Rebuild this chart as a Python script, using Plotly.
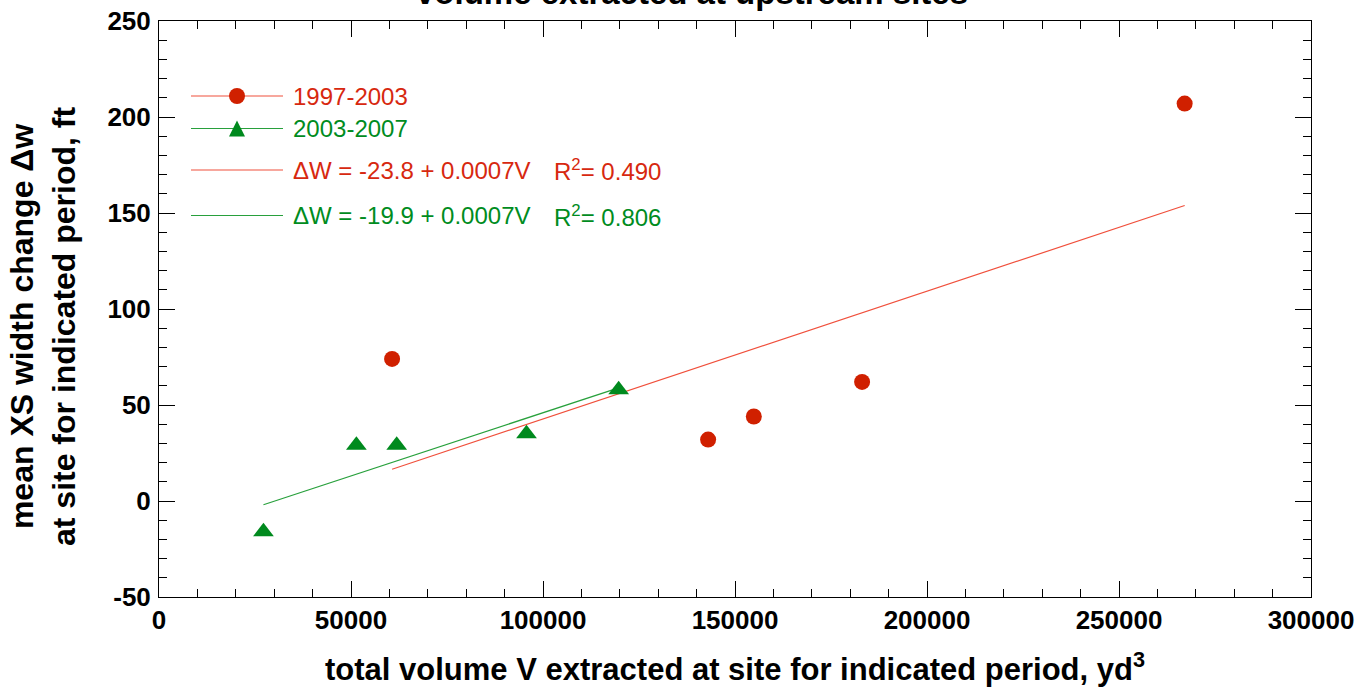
import numpy as np
import plotly.graph_objects as go

# Sites, 1997-2003: extracted volume (yd^3) and mean width change (ft)
vol_9703 = [60700, 143000, 154900, 183100, 267100]
dw_9703 = [74, 32, 44, 62, 207]

# Sites, 2003-2007
vol_0307 = [27200, 51400, 61900, 95700, 119700]
dw_0307 = [-16, 29, 29, 35, 58]

series_names = ["1997-2003", "2003-2007"]
fit_labels = ["ΔW = -23.8 + 0.0007V", "ΔW = -19.9 + 0.0007V"]
r2_labels = ["0.490", "0.806"]

x_ticks = [0, 50000, 100000, 150000, 200000, 250000, 300000]
y_ticks = [-50, 0, 50, 100, 150, 200, 250]

RED = "rgb(208,32,0)"
RED_LINE = "rgb(240,80,60)"
RED_TEXT = "rgb(215,40,15)"
GREEN = "rgb(0,138,30)"
GREEN_LINE = "rgb(40,160,60)"
GREEN_TEXT = "rgb(0,140,30)"
FONT = "Liberation Sans, Arial, Helvetica, sans-serif"

W, H = 1369, 688
ML, MR, MT, MB = 159, 58, 21, 91
PW, PH = W - ML - MR, H - MT - MB


def px(x):
    return (x - ML) / PW


def py(y):
    return (H - MB - y) / PH


fig = go.Figure()

# least-squares lines over each series' extent
for xs, ys, col in [(vol_9703, dw_9703, RED_LINE), (vol_0307, dw_0307, GREEN_LINE)]:
    m, b = np.polyfit(xs, ys, 1)
    xl = np.array([min(xs), max(xs)])
    fig.add_trace(go.Scatter(x=xl, y=m * xl + b, mode="lines",
                             line=dict(color=col, width=1.2), showlegend=False,
                             hoverinfo="skip"))

fig.add_trace(go.Scatter(x=vol_9703, y=dw_9703, mode="markers", name=series_names[0],
                         marker=dict(symbol="circle", size=16, color=RED),
                         showlegend=False))
fig.add_trace(go.Scatter(x=vol_0307, y=dw_0307, mode="markers", name=series_names[1],
                         marker=dict(symbol="triangle-up", size=18, color=GREEN),
                         showlegend=False))

shapes = []
annotations = []

# hand-built key
key_rows = [
    (96, RED_LINE, "circle", RED, series_names[0], RED_TEXT, None),
    (128.5, GREEN_LINE, "triangle", GREEN, series_names[1], GREEN_TEXT, None),
    (170, RED_LINE, None, None, fit_labels[0], RED_TEXT, r2_labels[0]),
    (215.5, GREEN_LINE, None, None, fit_labels[1], GREEN_TEXT, r2_labels[1]),
]
for yy, lc, sym, mc, label, tc, r2 in key_rows:
    shapes.append(dict(type="line", xref="paper", yref="paper",
                       x0=px(191), x1=px(283), y0=py(yy), y1=py(yy),
                       line=dict(color=lc, width=1.2)))
    if sym == "circle":
        shapes.append(dict(type="circle", xref="paper", yref="paper",
                           x0=px(237 - 8), x1=px(237 + 8), y0=py(yy + 8), y1=py(yy - 8),
                           fillcolor=mc, line=dict(width=0)))
    elif sym == "triangle":
        shapes.append(dict(type="path", xref="paper", yref="paper",
                           path=f"M {px(229)},{py(yy + 8)} L {px(245)},{py(yy + 8)} L {px(237)},{py(yy - 8)} Z",
                           fillcolor=mc, line=dict(width=0)))
    annotations.append(dict(text=label, xref="paper", yref="paper", x=px(291), y=py(yy),
                            xanchor="left", yanchor="middle", showarrow=False,
                            font=dict(family=FONT, size=24, color=tc)))
    if r2:
        annotations.append(dict(text=f"R<sup>2</sup>= {r2}", xref="paper", yref="paper",
                                x=px(552), y=py(yy), xanchor="left", yanchor="middle",
                                showarrow=False, font=dict(family=FONT, size=24, color=tc)))

# title, partly above the top edge
annotations.append(dict(text="volume extracted at upstream sites", xref="paper", yref="paper",
                        x=px(692), y=py(13), xanchor="center", yanchor="bottom", showarrow=False,
                        font=dict(family=FONT, size=33, color="black", weight="bold")))

# two-line y title
annotations.append(dict(text="mean XS width change Δw<br>at site for indicated period, ft",
                        xref="paper", yref="paper", x=px(43), y=py(326), textangle=-90,
                        xanchor="center", yanchor="middle", showarrow=False,
                        font=dict(family=FONT, size=32, color="black", weight="bold")))

# x title
annotations.append(dict(text="total volume V extracted at site for indicated period, yd<sup>3</sup>",
                        xref="paper", yref="paper", x=px(735), y=py(667),
                        xanchor="center", yanchor="middle", showarrow=False,
                        font=dict(family=FONT, size=31, color="black", weight="bold")))

axis_common = dict(showline=True, linecolor="black", linewidth=1, mirror="allticks",
                   ticks="inside", ticklen=16, tickwidth=1, tickcolor="black",
                   showgrid=False, zeroline=False, automargin=False,
                   tickfont=dict(family=FONT, size=26, color="black", weight="bold"))

fig.update_layout(
    width=W, height=H,
    margin=dict(l=ML, r=MR, t=MT, b=MB, autoexpand=False),
    paper_bgcolor="white", plot_bgcolor="white",
    xaxis=dict(range=[0, 300000], tickvals=x_ticks,
               ticktext=[str(v) for v in x_ticks],
               minor=dict(dtick=10000, ticklen=8, ticks="inside", tickcolor="black",
                          showgrid=False),
               **axis_common),
    yaxis=dict(range=[-50, 250], tickvals=y_ticks, ticklabelstandoff=2,
               ticktext=[str(v) for v in y_ticks],
               minor=dict(dtick=10, ticklen=8, ticks="inside", tickcolor="black",
                          showgrid=False),
               **axis_common),
    shapes=shapes, annotations=annotations,
    showlegend=False,
)

fig.write_html("out.html")
